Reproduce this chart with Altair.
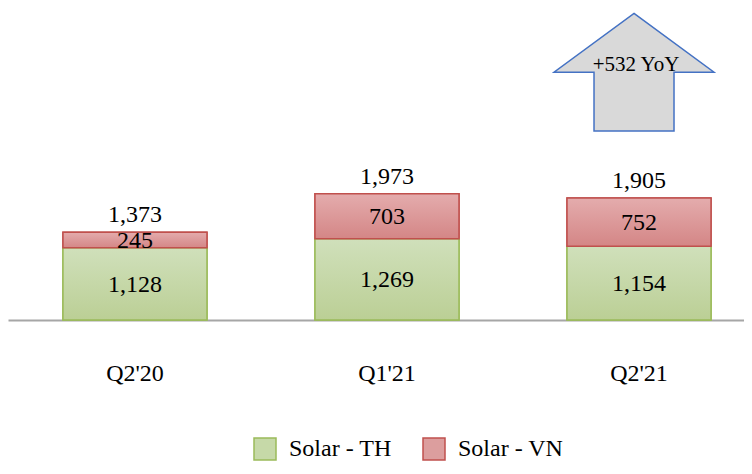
import altair as alt
import pandas as pd

quarters = ["Q2'20", "Q1'21", "Q2'21"]
series = ["Solar - TH", "Solar - VN"]
solar_th = [1128, 1269, 1154]
solar_vn = [245, 703, 752]
totals = [1373, 1973, 1905]

rows = []
for q, th, vn in zip(quarters, solar_th, solar_vn):
    rows.append({"quarter": q, "series": series[0], "value": th, "y0": 0, "y1": th, "mid": th / 2, "order": 0})
    rows.append({"quarter": q, "series": series[1], "value": vn, "y0": th, "y1": th + vn, "mid": th + vn / 2, "order": 1})
df = pd.DataFrame(rows)
tot_df = pd.DataFrame({"quarter": quarters, "total": totals})
yoy = totals[-1] - totals[0]
ann_df = pd.DataFrame({"quarter": [quarters[-1]], "label": [f"+{yoy} YoY"]})

FONT = "Liberation Serif"
x_scale = alt.Scale(domain=quarters, paddingInner=0.4286, paddingOuter=0.1745, align=0.625)
y_scale = alt.Scale(domain=[0, 4875])

x_enc = alt.X("quarter:N", scale=x_scale, sort=quarters,
              axis=alt.Axis(title=None, labelAngle=0, ticks=False, tickSize=0,
                            labelFont=FONT, labelFontSize=24, labelColor="black",
                            labelBaseline="alphabetic", labelPadding=60,
                            domainColor="#a6a6a6", domainWidth=2, grid=False))

legend = alt.Legend(title=None, orient="none", legendX=245, legendY=429,
                    direction="horizontal", symbolType="square", symbolSize=484,
                    symbolStrokeWidth=1.5, labelFont=FONT, labelFontSize=24,
                    labelColor="black", columnPadding=28, labelOffset=12, padding=0)

base = alt.Chart(df).mark_bar(strokeWidth=1.5).encode(
    x=x_enc,
    y=alt.Y("y1:Q", scale=y_scale, axis=None),
    y2="y0:Q",
    fill=alt.Fill("series:N", scale=alt.Scale(domain=series, range=["#c6d9a8", "#dc9e9e"]), legend=legend),
    stroke=alt.Stroke("series:N", scale=alt.Scale(domain=series, range=["#9bbb59", "#c0504d"]), legend=legend),
)

def grad(top, bottom):
    return {"gradient": "linear", "x1": 0, "y1": 0, "x2": 0, "y2": 1,
            "stops": [{"offset": 0, "color": top}, {"offset": 1, "color": bottom}]}

th_layer = alt.Chart(df).transform_filter(alt.datum.series == series[0]).mark_bar(
    fill=grad("#d0e0bb", "#bbcf95"), stroke="#9bbb59", strokeWidth=1.5
).encode(x=alt.X("quarter:N", scale=x_scale, sort=quarters), y=alt.Y("y1:Q", scale=y_scale), y2="y0:Q")

vn_layer = alt.Chart(df).transform_filter(alt.datum.series == series[1]).mark_bar(
    fill=grad("#e4acad", "#d48686"), stroke="#c0504d", strokeWidth=1.5
).encode(x=alt.X("quarter:N", scale=x_scale, sort=quarters), y=alt.Y("y1:Q", scale=y_scale), y2="y0:Q")

seg_text = alt.Chart(df).mark_text(font=FONT, fontSize=24, color="black", baseline="middle", dy=1).encode(
    x=alt.X("quarter:N", scale=x_scale, sort=quarters),
    y=alt.Y("mid:Q", scale=y_scale),
    text=alt.Text("value:Q", format=","),
)

tot_text = alt.Chart(tot_df).mark_text(font=FONT, fontSize=24, color="black", baseline="alphabetic", dy=-10).encode(
    x=alt.X("quarter:N", scale=x_scale, sort=quarters),
    y=alt.Y("total:Q", scale=y_scale),
    text=alt.Text("total:Q", format=","),
)

arrow_path = "M0,-0.736 L1,0 L0.5,0 L0.5,0.735 L-0.5,0.735 L-0.5,0 L-1,0 Z"
arrow = alt.Chart(ann_df).mark_point(
    shape=arrow_path, size=25600, filled=True, fill="#d9d9d9", stroke="#4472c4",
    strokeWidth=1.5, opacity=1, xOffset=-5
).encode(x=alt.X("quarter:N", scale=x_scale, sort=quarters), y=alt.value(64.2))

arrow_text = alt.Chart(ann_df).mark_text(
    font=FONT, fontSize=21, color="black", baseline="alphabetic", xOffset=-3
).encode(x=alt.X("quarter:N", scale=x_scale, sort=quarters), y=alt.value(62.7), text="label:N")

chart = alt.layer(base, th_layer, vn_layer, seg_text, tot_text, arrow, arrow_text).properties(
    width=736, height=312,
    autosize=alt.AutoSizeParams(type="none"),
    padding={"left": 0, "top": 0, "right": 0, "bottom": 146},
).configure_view(stroke=None)

chart.save("out.html", embed_options={"renderer": "svg", "actions": False})
